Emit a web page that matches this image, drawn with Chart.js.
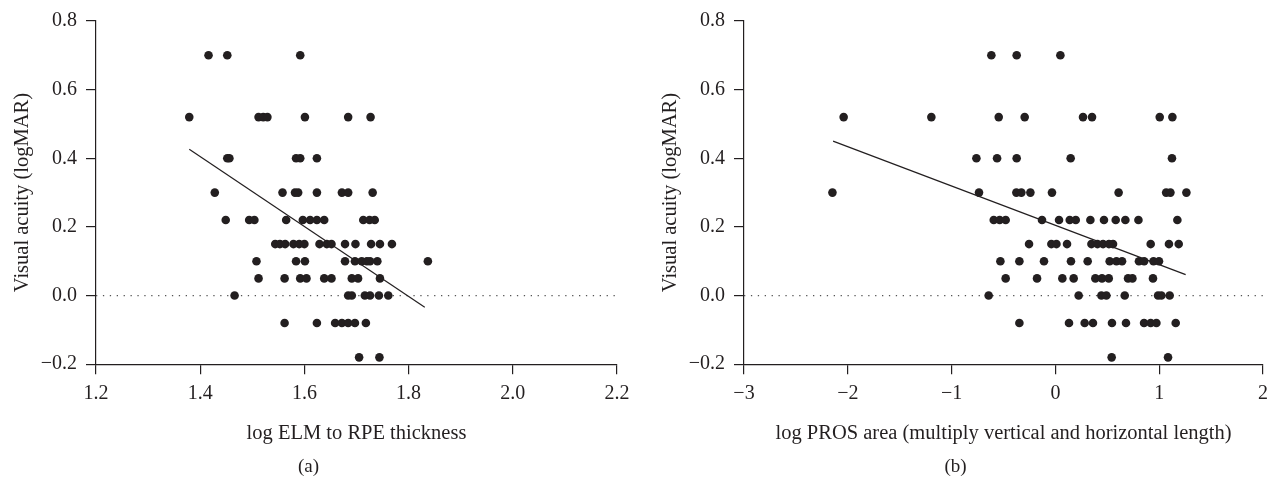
<!DOCTYPE html>
<html>
<head>
<meta charset="utf-8">
<script src="https://cdn.jsdelivr.net/npm/chart.js@4"></script>
<style>
  body { margin: 0; background: #fff; }
  #wrap { position: relative; width: 1278px; height: 480px; overflow: hidden; }
  .panel { position: absolute; top: 0; height: 480px; }
</style>
</head>
<body>
<div id="wrap">
  <div class="panel" style="left:0;width:640px"><canvas id="chartA" width="640" height="480"></canvas></div>
  <div class="panel" style="left:648px;width:630px"><canvas id="chartB" width="630" height="480"></canvas></div>
</div>
<script>
// acuity steps (logMAR) that the points sit on
const acuityLevels = [0.7, 0.52, 0.4, 0.3, 0.22, 0.15, 0.1, 0.05, 0, -0.08, -0.18];

// panel (a): log ELM to RPE thickness, one row per acuity level
const elmByLevel = [
  [1.416, 1.452, 1.592],
  [1.379, 1.512, 1.521, 1.529, 1.601, 1.684, 1.727],
  [1.452, 1.456, 1.584, 1.592, 1.624],
  [1.428, 1.558, 1.582, 1.588, 1.624, 1.672, 1.684, 1.731],
  [1.449, 1.494, 1.504, 1.565, 1.597, 1.611, 1.624, 1.638, 1.713, 1.725, 1.735],
  [1.544, 1.553, 1.563, 1.579, 1.590, 1.600, 1.629, 1.643, 1.652, 1.678, 1.698, 1.728, 1.745, 1.768],
  [1.508, 1.584, 1.601, 1.678, 1.697, 1.710, 1.720, 1.726, 1.740, 1.837],
  [1.512, 1.562, 1.592, 1.604, 1.638, 1.652, 1.691, 1.703, 1.745],
  [1.466, 1.684, 1.691, 1.716, 1.726, 1.743, 1.761],
  [1.562, 1.624, 1.659, 1.672, 1.684, 1.697, 1.718],
  [1.705, 1.744]
];

// panel (b): log PROS area
const prosByLevel = [
  [-0.617, -0.373, 0.048],
  [-2.04, -1.195, -0.546, -0.296, 0.266, 0.353, 1.005, 1.127],
  [-0.761, -0.562, -0.373, 0.147, 1.123],
  [-2.148, -0.736, -0.376, -0.328, -0.241, -0.033, 0.609, 1.067, 1.108, 1.262],
  [-0.594, -0.537, -0.479, -0.129, 0.035, 0.138, 0.196, 0.337, 0.468, 0.581, 0.674, 0.800, 1.175],
  [-0.254, -0.039, 0.010, 0.112, 0.347, 0.405, 0.459, 0.516, 0.555, 0.918, 1.094, 1.188],
  [-0.530, -0.347, -0.110, 0.150, 0.311, 0.523, 0.588, 0.642, 0.805, 0.855, 0.945, 0.998],
  [-0.479, -0.177, 0.067, 0.176, 0.385, 0.449, 0.514, 0.700, 0.742, 0.940],
  [-0.643, 0.224, 0.443, 0.491, 0.668, 0.989, 1.021, 1.101],
  [-0.347, 0.131, 0.282, 0.362, 0.545, 0.680, 0.854, 0.918, 0.973, 1.159],
  [0.542, 1.085]
];

// fitted lines, end points
const elmFitX = [1.379, 1.831];
const elmFitY = [0.426, -0.034];
const prosFitX = [-2.142, 1.255];
const prosFitY = [0.450, 0.061];

const ink = '#231f20';
const serif = '"Liberation Serif", "DejaVu Serif", serif';

function toPoints(rows) {
  const pts = [];
  rows.forEach((row, i) => {
    row.forEach((x) => pts.push({ x: x, y: acuityLevels[i] }));
  });
  return pts;
}

function minus(str) {
  return String(str).replace('-', '\u2212');
}

function makeChart(canvas, cfg) {
  const points = toPoints(cfg.rows);
  const fit = cfg.fitX.map((x, i) => ({ x: x, y: cfg.fitY[i] }));

  return new Chart(canvas, {
    type: 'scatter',
    data: {
      datasets: [
        {
          // zero reference line
          type: 'line',
          data: [{ x: cfg.xMin, y: 0 }, { x: cfg.xMax, y: 0 }],
          borderColor: '#555',
          borderWidth: 1.2,
          borderDash: [1.3, 5.6],
          pointRadius: 0,
          order: 3
        },
        {
          type: 'line',
          data: fit,
          borderColor: ink,
          borderWidth: 1.2,
          pointRadius: 0,
          order: 2
        },
        {
          data: points,
          backgroundColor: ink,
          borderColor: ink,
          borderWidth: 0,
          pointRadius: 4.3,
          order: 1
        }
      ]
    },
    options: {
      responsive: false,
      animation: false,
      events: [],
      layout: { padding: { left: 0, top: 19, right: cfg.padRight, bottom: 0 } },
      plugins: {
        legend: { display: false },
        tooltip: { enabled: false },
        title: {
          display: true,
          position: 'bottom',
          text: cfg.caption,
          color: ink,
          font: { family: serif, size: 19, weight: 'normal' },
          padding: { top: 0, bottom: 2 }
        }
      },
      scales: {
        x: {
          type: 'linear',
          min: cfg.xMin,
          max: cfg.xMax,
          afterFit: (s) => { s.height = 91; },
          ticks: {
            stepSize: cfg.xStep,
            color: ink,
            padding: 8,
            font: { family: serif, size: 20 },
            callback: (v) => minus(cfg.xFmt(v))
          },
          grid: { drawOnChartArea: false, drawTicks: true, tickLength: 10, color: ink, lineWidth: 1.2 },
          border: { display: true, color: ink, width: 1.2 },
          title: {
            display: true,
            text: cfg.xTitle,
            color: ink,
            font: { family: serif, size: 20.5 },
            padding: { top: 0, bottom: 9 }
          }
        },
        y: {
          type: 'linear',
          min: -0.2,
          max: 0.8,
          afterFit: (s) => { s.width = 96; },
          ticks: {
            stepSize: 0.2,
            color: ink,
            padding: 9,
            font: { family: serif, size: 20 },
            callback: (v) => minus(v.toFixed(1))
          },
          grid: { drawOnChartArea: false, drawTicks: true, tickLength: 10, color: ink, lineWidth: 1.2 },
          border: { display: true, color: ink, width: 1.2 },
          title: {
            display: true,
            text: 'Visual acuity (logMAR)',
            color: ink,
            font: { family: serif, size: 20.5 },
            padding: { top: 10, bottom: 0 }
          }
        }
      }
    }
  });
}

makeChart(document.getElementById('chartA'), {
  rows: elmByLevel,
  fitX: elmFitX,
  fitY: elmFitY,
  xMin: 1.2,
  xMax: 2.2,
  xStep: 0.2,
  xFmt: (v) => v.toFixed(1),
  xTitle: 'log ELM to RPE thickness',
  caption: '(a)',
  padRight: 23
});

makeChart(document.getElementById('chartB'), {
  rows: prosByLevel,
  fitX: prosFitX,
  fitY: prosFitY,
  xMin: -3,
  xMax: 2,
  xStep: 1,
  xFmt: (v) => v.toFixed(0),
  xTitle: 'log PROS area (multiply vertical and horizontal length)',
  caption: '(b)',
  padRight: 15
});
</script>
</body>
</html>
